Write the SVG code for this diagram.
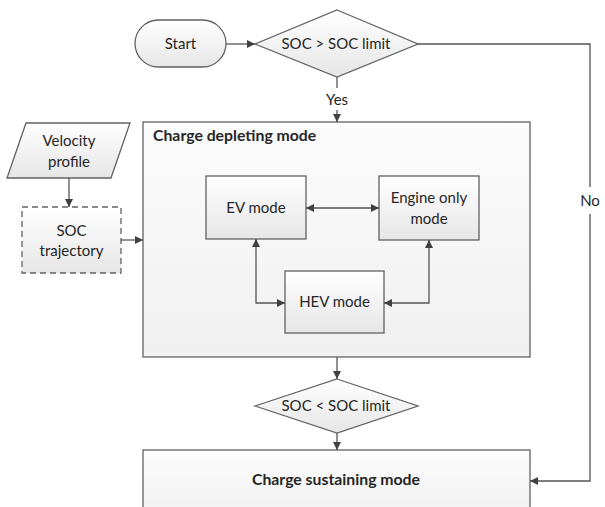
<svg xmlns="http://www.w3.org/2000/svg" width="605" height="507" viewBox="0 0 605 507">
<defs>
<linearGradient id="g" x1="0" y1="0" x2="0" y2="1">
<stop offset="0" stop-color="#ffffff"/><stop offset="1" stop-color="#e6e6e6"/>
</linearGradient>
<linearGradient id="gb" x1="0" y1="0" x2="0" y2="1">
<stop offset="0" stop-color="#fcfcfc"/><stop offset="1" stop-color="#f0f0f0"/>
</linearGradient>
<marker id="ah" viewBox="0 0 10 10" refX="10" refY="5" markerWidth="8" markerHeight="8" markerUnits="userSpaceOnUse" orient="auto-start-reverse">
<path d="M0,0 L10,5 L0,10 z" fill="#404040"/>
</marker>
</defs>
<style>
.s{stroke:#626262;stroke-width:1.3;fill:url(#g)}
.b{stroke:#626262;stroke-width:1.3;fill:url(#gb)}
.c{stroke:#555555;stroke-width:1.3;fill:none}
text{font-family:Lato,"Open Sans","Liberation Sans",sans-serif;font-size:15px;fill:#262626;text-anchor:middle}
.t{font-weight:bold;font-size:15.8px}
</style>
<rect width="605" height="507" fill="#ffffff"/>
<g id="charge-depleting">
<rect class="b" x="143" y="122" width="387" height="235"/>
<text class="t" x="153" y="141" style="text-anchor:start">Charge depleting mode</text>
</g>
<g id="charge-sustaining">
<rect class="b" x="143" y="450" width="387" height="70"/>
<text class="t" x="336" y="485">Charge sustaining mode</text>
</g>
<g id="start">
<rect class="s" x="135" y="20" width="91" height="47" rx="23.5" ry="23.5"/>
<text x="180.5" y="49">Start</text>
</g>
<g id="dec1">
<polygon class="s" points="337,10 418,44 337,77 255,44"/>
<text x="336" y="49">SOC &gt; SOC limit</text>
</g>
<g id="dec2">
<polygon class="s" points="337,379 418,406 337,433 255,406"/>
<text x="336" y="411">SOC &lt; SOC limit</text>
</g>
<g id="velocity">
<polygon class="s" points="26,123 130,123 111,178 7,178"/>
<text x="69" y="146">Velocity</text>
<text x="69" y="167">profile</text>
</g>
<g id="soc-trajectory">
<rect class="s" x="22" y="207" width="99" height="66" style="stroke-dasharray:6,4"/>
<text x="71.5" y="236">SOC</text>
<text x="71.5" y="256">trajectory</text>
</g>
<g id="ev">
<rect class="s" x="206" y="176" width="100" height="63"/>
<text x="256" y="213">EV mode</text>
</g>
<g id="engine">
<rect class="s" x="379" y="176" width="100" height="64"/>
<text x="429" y="203">Engine only</text>
<text x="429" y="224">mode</text>
</g>
<g id="hev">
<rect class="s" x="285" y="271" width="99" height="62"/>
<text x="334.5" y="307">HEV mode</text>
</g>
<g id="connectors">
<line class="c" x1="226" y1="44" x2="255" y2="44" marker-end="url(#ah)"/>
<line class="c" x1="337" y1="77" x2="337" y2="88"/>
<line class="c" x1="337" y1="110" x2="337" y2="122" marker-end="url(#ah)"/>
<text x="337" y="105">Yes</text>
<line class="c" x1="69" y1="178" x2="69" y2="207" marker-end="url(#ah)"/>
<line class="c" x1="121" y1="240" x2="143" y2="240" marker-end="url(#ah)"/>
<line class="c" x1="306" y1="208" x2="379" y2="208" marker-start="url(#ah)" marker-end="url(#ah)"/>
<polyline class="c" points="256,239 256,303 285,303" marker-start="url(#ah)" marker-end="url(#ah)"/>
<polyline class="c" points="429,240 429,303 384,303" marker-start="url(#ah)" marker-end="url(#ah)"/>
<line class="c" x1="337" y1="357" x2="337" y2="379" marker-end="url(#ah)"/>
<line class="c" x1="337" y1="433" x2="337" y2="450" marker-end="url(#ah)"/>
<polyline class="c" points="418,44 590,44 590,187"/>
<polyline class="c" points="590,214 590,481 530,481" marker-end="url(#ah)"/>
<text x="590" y="206">No</text>
</g>
</svg>
